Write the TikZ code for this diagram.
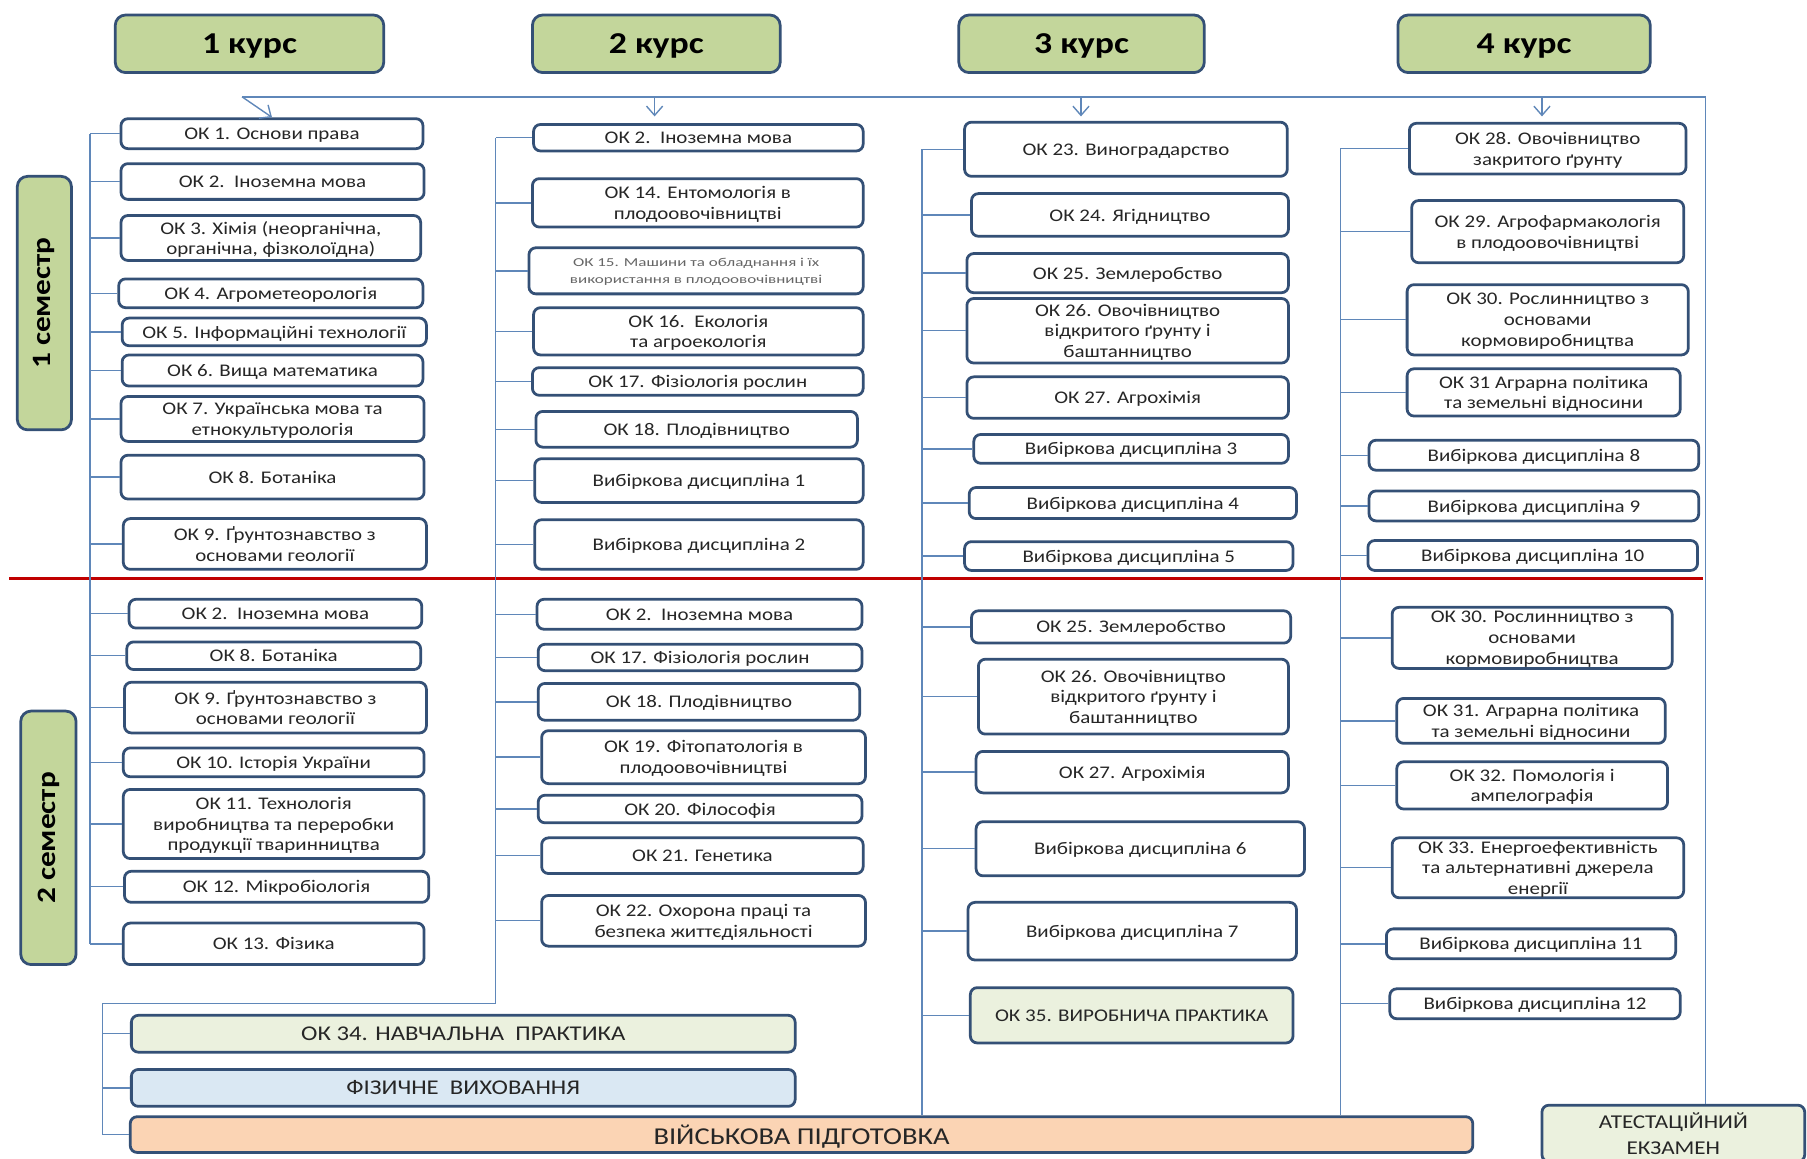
\documentclass[tikz,border=0pt]{standalone}
\usepackage{fontspec}
\setmainfont{Carlito}[FakeStretch=1.18]
\newfontfamily\plainf{Carlito}[FakeStretch=1.18]
\usetikzlibrary{arrows.meta}
\definecolor{bordc}{RGB}{52,80,118}
\definecolor{connc}{RGB}{95,135,185}
\definecolor{hdrg}{RGB}{195,214,155}
\definecolor{txtc}{RGB}{38,38,38}
\definecolor{redl}{RGB}{192,0,0}
\definecolor{prc}{RGB}{235,241,222}
\definecolor{fizc}{RGB}{218,232,243}
\definecolor{milc}{RGB}{251,212,180}
\tikzset{
  box/.style={draw=bordc,line width=2.4pt,rounded corners=6pt,fill=white,align=center,
    text=txtc,inner sep=0pt,text depth=0pt,font=\fontsize{15.4}{18}\selectfont},
  hdr/.style={draw=bordc,line width=2.4pt,rounded corners=9pt,fill=hdrg,align=center,
    text=black,inner sep=0pt},
  conn/.style={draw=connc,line width=1.2pt},
  arr/.style={-{Straight Barb[length=8pt,width=14pt,line width=1.2pt]}},
  wide/.style={font=\plainf\fontsize{18.2}{22}\selectfont}
}
\newcommand\bx[7][]{\node[box,minimum width={(#5-#3)*1pt},minimum height={(#6-#4)*1pt},#1] (#2) at ({(#3+#5)/2},{(#4+#6)/2}) {#7};}
\begin{document}
\begin{tikzpicture}[x=1pt,y=-1pt]
\useasboundingbox (0,0) rectangle (1568,1005);
\fill[white] (0,0) rectangle (1568,1005);
% headers
\bx[hdr,font=\bfseries\fontsize{26.3}{30}\selectfont]{k1}{100}{13}{333}{63}{1 курс}
\bx[hdr,font=\bfseries\fontsize{26.3}{30}\selectfont]{k2}{462}{13}{677}{63}{2 курс}
\bx[hdr,font=\bfseries\fontsize{26.3}{30}\selectfont]{k3}{832}{13}{1045}{63}{3 курс}
\bx[hdr,font=\bfseries\fontsize{26.3}{30}\selectfont]{k4}{1213}{13}{1432}{63}{4 курс}
\node[hdr,rotate=90,minimum width=220pt,minimum height=47pt,font=\bfseries\fontsize{23}{26}\selectfont] (s1) at (38.5,263) {1 семестр};
\node[hdr,rotate=90,minimum width=220pt,minimum height=48pt,font=\bfseries\fontsize{23}{26}\selectfont] (s2) at (42,727) {2 семестр};
% column 1
\bx{a1}{105}{103}{367}{129}{ОК 1. Основи права}
\bx{a2}{105}{142}{368}{173}{ОК 2.\ \ Іноземна мова}
\bx{a3}{105}{187}{365}{226}{ОК 3. Хімія (неорганічна,\\органічна, фізколоїдна)}
\bx{a4}{103}{242}{367}{267}{ОК 4. Агрометеорологія}
\bx{a5}{106}{276}{370}{300}{ОК 5. Інформаційні технології}
\bx{a6}{106}{308}{367}{335}{ОК 6. Вища математика}
\bx{a7}{105}{344}{368}{383}{ОК 7. Українська мова та\\етнокультурологія}
\bx{a8}{105}{395}{368}{433}{ОК 8. Ботаніка}
\bx{a9}{107}{450}{370}{494}{ОК 9. Ґрунтознавство з\\основами геології}
\bx{a10}{112}{520}{366}{545}{ОК 2.\ \ Іноземна мова}
\bx{a11}{110}{557}{365}{581}{ОК 8. Ботаніка}
\bx{a12}{108}{592}{370}{636}{ОК 9. Ґрунтознавство з\\основами геології}
\bx{a13}{107}{649}{368}{674}{ОК 10. Історія України}
\bx{a14}{107}{685}{368}{745}{ОК 11. Технологія\\виробництва та переробки\\продукції тваринництва}
\bx{a15}{108}{756}{372}{783}{ОК 12. Мікробіологія}
\bx{a16}{107}{801}{368}{837}{ОК 13. Фізика}
% column 2
\bx{b1}{463}{108}{749}{131}{ОК 2.\ \ Іноземна мова}
\bx{b2}{462}{155}{749}{197}{ОК 14. Ентомологія в\\плодоовочівництві}
\bx[font=\fontsize{10.5}{15}\selectfont,text=black!60]{b3}{459}{215}{749}{255}{\scalebox{1.19}[1]{ОК 15. Машини та обладнання і їх}\\\scalebox{1.19}[1]{використання в плодоовочівництві}}
\bx{b4}{463}{267}{749}{308}{ОК 16.\ \ Екологія\\та агроекологія}
\bx{b5}{462}{319}{749}{343}{ОК 17. Фізіологія рослин}
\bx{b6}{465}{357}{744}{388}{ОК 18. Плодівництво}
\bx{b7}{464}{398}{749}{436}{Вибіркова дисципліна 1}
\bx{b8}{464}{451}{749}{494}{Вибіркова дисципліна 2}
\bx{b9}{466}{520}{748}{546}{ОК 2.\ \ Іноземна мова}
\bx{b10}{467}{559}{748}{582}{ОК 17. Фізіологія рослин}
\bx{b11}{467}{593}{746}{625}{ОК 18. Плодівництво}
\bx{b12}{470}{634}{751}{680}{ОК 19. Фітопатологія в\\плодоовочівництві}
\bx{b13}{467}{690}{748}{714}{ОК 20. Філософія}
\bx{b14}{470}{727}{749}{758}{ОК 21. Генетика}
\bx{b15}{470}{777}{751}{821}{ОК 22. Охорона праці та\\безпека життєдіяльності}
% column 3
\bx{c1}{837}{106}{1117}{153}{ОК 23. Виноградарство}
\bx{c2}{843}{168}{1118}{205}{ОК 24. Ягідництво}
\bx{c3}{839}{220}{1118}{254}{ОК 25. Землеробство}
\bx{c4}{839}{259}{1118}{315}{ОК 26. Овочівництво\\відкритого ґрунту і\\баштанництво}
\bx{c5}{839}{327}{1118}{363}{ОК 27. Агрохімія}
\bx{c6}{845}{377}{1118}{402}{Вибіркова дисципліна 3}
\bx{c7}{841}{423}{1125}{450}{Вибіркова дисципліна 4}
\bx{c8}{837}{470}{1122}{495}{Вибіркова дисципліна 5}
\bx{c9}{843}{530}{1120}{558}{ОК 25. Землеробство}
\bx{c10}{849}{572}{1118}{637}{ОК 26. Овочівництво\\відкритого ґрунту і\\баштанництво}
\bx{c11}{847}{652}{1118}{688}{ОК 27. Агрохімія}
\bx{c12}{847}{713}{1132}{760}{Вибіркова дисципліна 6}
\bx{c13}{840}{783}{1125}{833}{Вибіркова дисципліна 7}
\bx[fill=prc,font=\fontsize{15.5}{19}\selectfont]{c14}{842}{857}{1122}{905}{ОК 35. ВИРОБНИЧА ПРАКТИКА}
% column 4
\bx{d1}{1223}{107}{1463}{151}{ОК 28. Овочівництво\\закритого ґрунту}
\bx{d2}{1225}{174}{1461}{228}{ОК 29. Агрофармакологія\\в плодоовочівництві}
\bx{d3}{1221}{247}{1465}{308}{ОК 30. Рослинництво з\\основами\\кормовиробництва}
\bx{d4}{1221}{320}{1458}{361}{ОК 31 Аграрна політика\\та земельні відносини}
\bx{d5}{1188}{382}{1474}{408}{Вибіркова дисципліна 8}
\bx{d6}{1188}{426}{1474}{452}{Вибіркова дисципліна 9}
\bx{d7}{1187}{469}{1473}{495}{Вибіркова дисципліна 10}
\bx{d8}{1208}{527}{1451}{580}{ОК 30. Рослинництво з\\основами\\кормовиробництва}
\bx{d9}{1212}{606}{1445}{645}{ОК 31. Аграрна політика\\та земельні відносини}
\bx{d10}{1212}{661}{1447}{702}{ОК 32. Помологія і\\ампелографія}
\bx{d11}{1208}{727}{1461}{779}{ОК 33. Енергоефективність\\та альтернативні джерела\\енергії}
\bx{d12}{1203}{806}{1454}{832}{Вибіркова дисципліна 11}
\bx{d13}{1206}{858}{1458}{884}{Вибіркова дисципліна 12}
% bottom
\bx[fill=prc,wide]{pr}{114}{881}{690}{913}{ОК 34. НАВЧАЛЬНА\ \ ПРАКТИКА}
\bx[fill=fizc,wide]{fiz}{114}{928}{690}{960}{ФІЗИЧНЕ\ \ ВИХОВАННЯ}
\bx[fill=milc,font=\plainf\fontsize{21}{24}\selectfont]{mil}{113}{969}{1278}{1000}{ВІЙСЬКОВА ПІДГОТОВКА}
\bx[fill=prc,font=\plainf\fontsize{17}{23}\selectfont]{exam}{1338}{959}{1566}{1008}{АТЕСТАЦІЙНИЙ\\ЕКЗАМЕН}
% red line
\draw[redl,line width=1.8pt] (8,502) -- (1478,502);
% top line and arrows
\coordinate (tl) at (210,84);
\coordinate (tr) at (1480,84);
\draw[conn] (tl) -- (tr) -- (tr |- exam.north);
\draw[conn,arr] (tl) -- (a1.north);
\draw[conn,arr] (568,84) -- (568,101);
\draw[conn,arr] (938,84) -- (938,101);
\draw[conn,arr] (1338,84) -- (1338,101);
% vertical lines
\coordinate (v1) at (78,0);
\coordinate (v2) at (430,0);
\coordinate (v3) at (800,0);
\coordinate (v4) at (1163,0);
\coordinate (j2) at (430,871);
\coordinate (j1) at (89,871);
\draw[conn] (v1 |- a1.west) -- (v1 |- a16.west);
\draw[conn] (v2 |- b1.west) -- (j2) -- (j1) -- (j1 |- mil.west);
\draw[conn] (v3 |- c1.west) -- (v3 |- mil.north);
\draw[conn] (v4 |- d1.west) -- (v4 |- mil.north);
\foreach \i in {1,...,16} \draw[conn] (a\i.west) -- (a\i.west -| v1);
\foreach \i in {1,...,15} \draw[conn] (b\i.west) -- (b\i.west -| v2);
\foreach \i in {1,...,14} \draw[conn] (c\i.west) -- (c\i.west -| v3);
\foreach \i in {1,...,13} \draw[conn] (d\i.west) -- (d\i.west -| v4);
\foreach \n in {pr,fiz,mil} \draw[conn] (\n.west) -- (\n.west -| j1);
\end{tikzpicture}
\end{document}
